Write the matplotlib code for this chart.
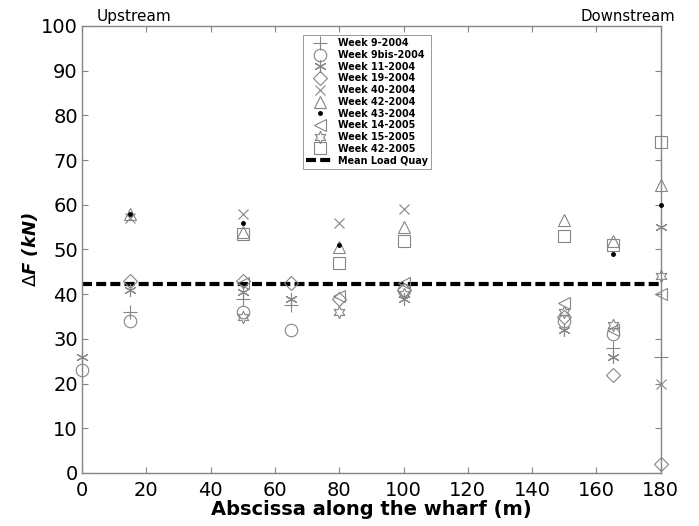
import numpy as np
import matplotlib
matplotlib.use("Agg")
import matplotlib.pyplot as plt

plt.rcParams['font.family'] = ['DejaVu Sans']

# data (abscissa in m, delta F in kN)
w9_2004_x = [15, 50, 65, 165, 180]
w9_2004_y = [36, 39, 37.5, 28, 26]
w9bis_2004_x = [0, 15, 50, 65, 100, 150, 165]
w9bis_2004_y = [23, 34, 36, 32, 41, 34, 31]
w11_2004_x = [0, 15, 50, 65, 100, 150, 165, 180]
w11_2004_y = [26, 41, 40.5, 39, 39, 32, 26, 55]
w19_2004_x = [15, 50, 65, 80, 100, 150, 165, 180]
w19_2004_y = [43, 43, 42.5, 39, 41, 35, 22, 2]
w40_2004_x = [15, 50, 80, 100, 180]
w40_2004_y = [57, 58, 56, 59, 20]
w42_2004_x = [15, 50, 80, 100, 150, 165, 180]
w42_2004_y = [58, 54, 50.5, 55, 56.5, 52, 64.5]
w43_2004_x = [15, 50, 80, 165, 180]
w43_2004_y = [58, 56, 51, 49, 60]
w14_2005_x = [50, 80, 100, 150, 165, 180]
w14_2005_y = [42.5, 39.5, 42.5, 38, 32, 40]
w15_2005_x = [50, 80, 100, 150, 165, 180]
w15_2005_y = [35, 36, 40, 36, 33, 44]
w42_2005_x = [50, 80, 100, 150, 165, 180]
w42_2005_y = [53.5, 47, 52, 53, 51, 74]
mean_load = 42.3

series = [
    (w9_2004_x, w9_2004_y, '+', 'Week 9-2004', 10),
    (w9bis_2004_x, w9bis_2004_y, 'o', 'Week 9bis-2004', 9),
    (w11_2004_x, w11_2004_y, (6, 2, 0), 'Week 11-2004', 9),
    (w19_2004_x, w19_2004_y, 'D', 'Week 19-2004', 7),
    (w40_2004_x, w40_2004_y, 'x', 'Week 40-2004', 7.5),
    (w42_2004_x, w42_2004_y, '^', 'Week 42-2004', 9),
    (w43_2004_x, w43_2004_y, '.', 'Week 43-2004', 5),
    (w14_2005_x, w14_2005_y, '<', 'Week 14-2005', 9),
    (w15_2005_x, w15_2005_y, (6, 1, 0), 'Week 15-2005', 9),
    (w42_2005_x, w42_2005_y, 's', 'Week 42-2005', 8),
]

gray = '#858585'
fig = plt.figure(figsize=(6.99, 5.26), dpi=100)
ax = fig.add_axes([0.1173, 0.1008, 0.828, 0.8498])

for xs, ys, mk, lab, ms in series:
    if mk == '.':
        ax.plot(xs, ys, linestyle='none', marker='o', markersize=2.5,
                color='black', label=lab, clip_on=False, zorder=4)
    else:
        ax.plot(xs, ys, linestyle='none', marker=mk, markersize=ms,
                markerfacecolor='none', markeredgecolor=gray,
                markeredgewidth=0.8, label=lab, clip_on=False, zorder=3)

ax.plot([0, 180], [mean_load, mean_load], color='black', linewidth=3,
        linestyle=(0, (2.4, 1.0)), label='Mean Load Quay', zorder=2)

ax.set_xlim(0, 180)
ax.set_ylim(0, 100)
ax.set_xticks(np.arange(0, 181, 20))
ax.set_yticks(np.arange(0, 101, 10))
ax.tick_params(direction='in', top=True, right=True, length=4,
               color=gray, labelsize=14)
ax.tick_params(axis='x', pad=6)
ax.tick_params(axis='y', pad=3)
for sp in ax.spines.values():
    sp.set_color(gray)
    sp.set_linewidth(1.0)

ax.set_xlabel('Abscissa along the wharf (m)', fontsize=14, fontweight='bold',
              labelpad=0)
ax.set_ylabel(r'$\Delta$F (kN)', fontsize=13, fontweight='bold',
              fontstyle='italic', labelpad=1)

ax.text(4.7, 100.5, 'Upstream', fontsize=11, ha='left', va='bottom')
ax.text(184.5, 100.5, 'Downstream', fontsize=10.7, ha='right', va='bottom',
        clip_on=False)

leg = ax.legend(loc='upper left', bbox_to_anchor=(0.382, 0.98),
                borderaxespad=0,
                prop={'weight': 'bold', 'size': 6.9}, labelspacing=0.18,
                handlelength=2.8, handletextpad=0.5, borderpad=0.35,
                fancybox=False, framealpha=1, edgecolor='#999999',
                numpoints=1)
leg.get_frame().set_linewidth(0.7)

fig.savefig('out.png', dpi=100)
